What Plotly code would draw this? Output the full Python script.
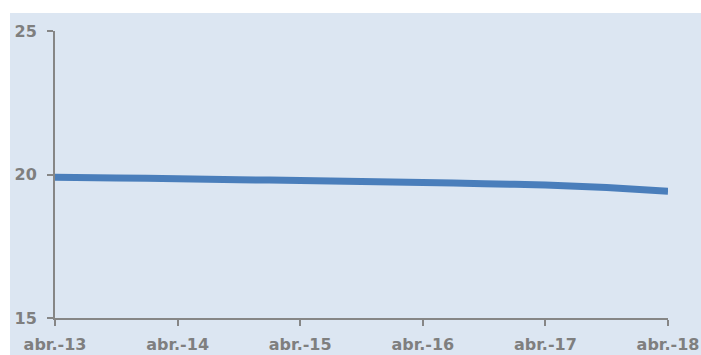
import plotly.graph_objects as go

# Half-yearly readings, months counted from abr.-13
months = [0, 6, 12, 18, 24, 30, 36, 42, 48, 54, 60]
values = [19.90, 19.88, 19.85, 19.82, 19.79, 19.76, 19.72, 19.68, 19.63, 19.55, 19.42]

tick_months = [0, 12, 24, 36, 48, 60]
tick_labels = ["abr.-13", "abr.-14", "abr.-15", "abr.-16", "abr.-17", "abr.-18"]
y_ticks = [15, 20, 25]

W, H = 701, 355
ML, MR, MT, MB = 55, 33, 31, 37
pw, ph = W - ML - MR, H - MT - MB

bg = "#dce6f2"
axis_col = "#868686"
text_col = "#7f7f7f"
font = dict(family="DejaVu Sans", size=16, color=text_col, weight="bold")

fig = go.Figure()
fig.add_trace(go.Scatter(
    x=months, y=values, mode="lines",
    line=dict(color="#4a7ebb", width=7, shape="spline", smoothing=0.5),
    hoverinfo="skip", showlegend=False,
))

# light panel behind the chart, leaving a white strip top and left
fig.add_shape(
    type="rect", xref="paper", yref="paper", layer="below",
    x0=(10 - ML) / pw, x1=(W - ML) / pw + 0.02,
    y0=-MB / ph - 0.02, y1=(H - MB - 13) / ph,
    fillcolor=bg, line=dict(width=0),
)

fig.update_xaxes(
    range=[0, 60], tickmode="array", tickvals=tick_months, ticktext=tick_labels,
    showgrid=False, zeroline=False, showline=True, linecolor=axis_col, linewidth=2,
    ticks="outside", ticklen=6, tickwidth=2, tickcolor=axis_col,
    tickfont=font, ticklabelstandoff=5, automargin=False,
)
fig.update_yaxes(
    range=[15, 25], tickmode="array", tickvals=y_ticks,
    showgrid=False, zeroline=False, showline=True, linecolor=axis_col, linewidth=2,
    ticks="outside", ticklen=6, tickwidth=2, tickcolor=axis_col,
    tickfont=font, ticklabelstandoff=7, automargin=False,
)
fig.update_layout(
    width=W, height=H, margin=dict(l=ML, r=MR, t=MT, b=MB, pad=0),
    paper_bgcolor="white", plot_bgcolor="rgba(0,0,0,0)",
)
fig.write_html("out.html")
